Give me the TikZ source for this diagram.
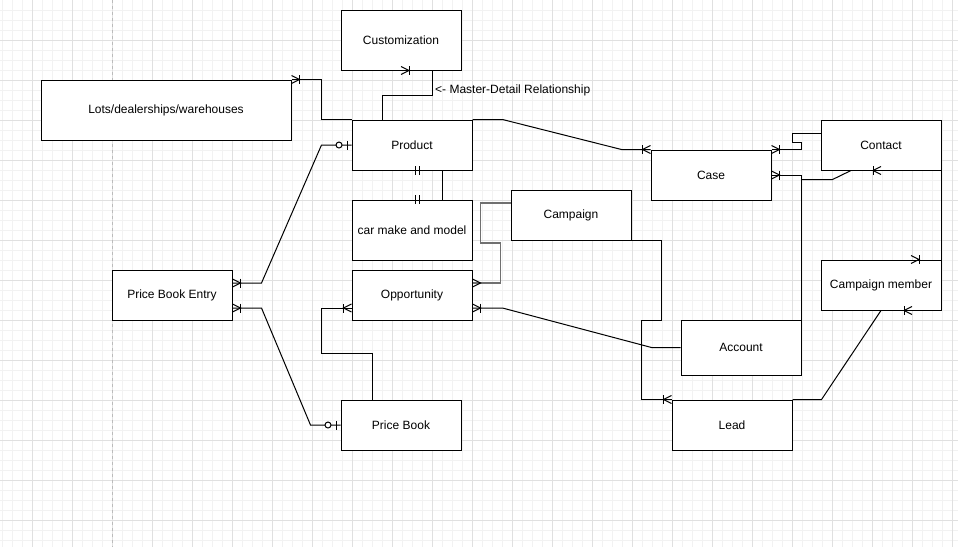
\documentclass[tikz,border=0pt]{standalone}
\usepackage{fontspec}
\setmainfont{Liberation Sans}
\usetikzlibrary{calc}

\definecolor{minorline}{HTML}{F2F2F2}
\definecolor{majorline}{HTML}{E0E0E0}
\definecolor{pageline}{HTML}{BBBBBB}
\definecolor{softline}{HTML}{707070}

\tikzset{
	entity/.style={draw, fill=white, line width=1pt, minimum width=120pt, minimum height=50pt, inner sep=0pt, font=\fontsize{12}{14}\selectfont},
	rel/.style={line width=1pt},
	onemany/.pic={
		\draw [line width=1pt] (0,-4)--(8,0)--(0,4);
		\draw [line width=1pt] (8,-4.5)--(8,4.5);
	},
	manyonly/.pic={
		\draw [line width=1pt] (0,-4)--(8,0)--(0,4);
	},
	oneonly/.pic={
		\draw [line width=1pt] (8,-4.5)--(8,4.5);
		\draw [line width=1pt] (12,-4.5)--(12,4.5);
	},
	zeroone/.pic={
		\draw [line width=1pt] (4,-4.5)--(4,4.5);
		\draw [line width=1pt, fill=white] (12.5,0) circle (3pt);
	}
}

\begin{document}
\begin{tikzpicture}[x=1pt,y=-1pt]

			% background grid and page break
			\fill [white] (0,0) rectangle (958,547);
			\useasboundingbox (0,0) rectangle (958,547);
			\foreach \gx in {2,12,...,952} \draw [minorline, line width=1pt] (\gx,0)--(\gx,547);
			\foreach \gy in {10,20,...,540} \draw [minorline, line width=1pt] (0,\gy)--(958,\gy);
			\foreach \gx in {32,72,...,952} \draw [majorline, line width=1pt] (\gx,0)--(\gx,547);
			\foreach \gy in {40,80,...,520} \draw [majorline, line width=1pt] (0,\gy)--(958,\gy);
			\draw [pageline, line width=1pt, dash pattern=on 3pt off 3pt] (112,0)--(112,547);

			% entities
			\node [entity, minimum height=60pt] (cust) at (401,40) {Customization};
			\node [entity, minimum width=250pt, minimum height=60pt] (lots) at (166,110) {Lots/dealerships/warehouses};
			\node [entity] (prod) at (412,145) {Product};
			\node [entity, minimum height=60pt] (car) at (412,230) {car make and model};
			\node [entity] (opp) at (412,295) {Opportunity};
			\node [entity] (pbe) at (172,295) {Price Book Entry};
			\node [entity] (pbook) at (401,425) {Price Book};
			\node [entity] (camp) at (571,215) {Campaign};
			\node [entity] (case) at (711,175) {Case};
			\node [entity] (contact) at (881,145) {Contact};
			\node [entity] (cmember) at (881,285) {Campaign member};
			\node [entity, minimum height=55pt] (account) at (741,347.5) {Account};
			\node [entity] (lead) at (732,425) {Lead};

			\node [anchor=west, inner sep=0pt, font=\fontsize{12}{14}\selectfont] (mdnote) at (435,90) {<- Master-Detail Relationship};

			% Customization - Product
			\draw [rel] ($(cust.south)+(31,0)$) -- ++(0,25) -| ($(prod.north)+(-30,0)$);
			\pic at (cust.south) {onemany};

			% Lots - Product - Case
			\draw [rel] (lots.north east) -- ++(30,0) |- (prod.north west);
			\pic at (lots.north east) {onemany};
			\draw [rel] (prod.north east) -- ++(30,0) -- ($(case.north west)+(-29,0)$) -- (case.north west);
			\pic [rotate=180] at (case.north west) {onemany};

			% Product - car make and model
			\draw [rel] ($(prod.south)+(30,0)$) -- ($(car.north)+(30,0)$);
			\pic at ($(prod.south)+(-5,0)$) {oneonly};
			\pic at ($(car.north)+(-5,0)$) {oneonly};

			% Product - Price Book Entry - Price Book
			\draw [rel] (prod.west) -- ++(-30,0) -- ($(pbe.east)+(29,-12)$) -- ($(pbe.east)+(0,-12)$);
			\pic [rotate=180] at (prod.west) {zeroone};
			\pic at ($(pbe.east)+(0,-12)$) {onemany};
			\draw [rel] ($(pbe.east)+(0,13)$) -- ++(29,0) -- ($(pbook.west)+(-30,0)$) -- (pbook.west);
			\pic at ($(pbe.east)+(0,13)$) {onemany};
			\pic [rotate=180] at (pbook.west) {zeroone};

			% Price Book - Opportunity
			\draw [rel] ($(pbook.north)+(-29,0)$) -- ++(0,-46) -- ++(-51,0) |- ($(opp.west)+(0,13)$);
			\pic [rotate=180] at ($(opp.west)+(0,13)$) {onemany};

			% Campaign - Opportunity
			\draw [rel, softline, line width=1.6pt] ($(camp.west)+(0,-12)$) -- ++(-30,0) -- ++(0,40) -- ++(20,0) |- ($(opp.east)+(0,-12)$);
			\pic at ($(opp.east)+(0,-12)$) {manyonly};

			% Opportunity - Account
			\draw [rel] ($(opp.east)+(0,13)$) -- ++(30,0) -- ($(account.west)+(-29,0)$) -- (account.west);
			\pic at ($(opp.east)+(0,13)$) {onemany};

			% Campaign - Lead
			\draw [rel] (camp.south east) -- ++(30,0) -- ++(0,80) -- ++(-20,0) |- (lead.north west);
			\pic [rotate=180] at (lead.north west) {onemany};

			% Account - Case, Account - Contact
			\draw [rel] (account.north east) |- (case.east);
			\pic at (case.east) {onemany};
			\coordinate (accbend) at ($(account.north east)+(0,-140)$);
			\draw [rel] (accbend) -- ++(31,0) -- ($(contact.south)+(-30,0)$);
			\pic [rotate=180] at (contact.south) {onemany};

			% Case - Contact
			\draw [rel] (case.north east) -- ++(30,0) -- ++(0,-7) -- ++(-9,0) |- ($(contact.west)+(0,-12)$);
			\pic at (case.north east) {onemany};

			% Contact - Campaign member - Lead
			\draw [rel] (contact.south east) -- (cmember.north east);
			\pic at ($(cmember.north)+(30,0)$) {onemany};
			\draw [rel] (cmember.south) -- ($(lead.north east)+(29,0)$) -- (lead.north east);
			\pic [rotate=180] at ($(cmember.south)+(31,0)$) {onemany};
		\end{tikzpicture}
\end{document}
